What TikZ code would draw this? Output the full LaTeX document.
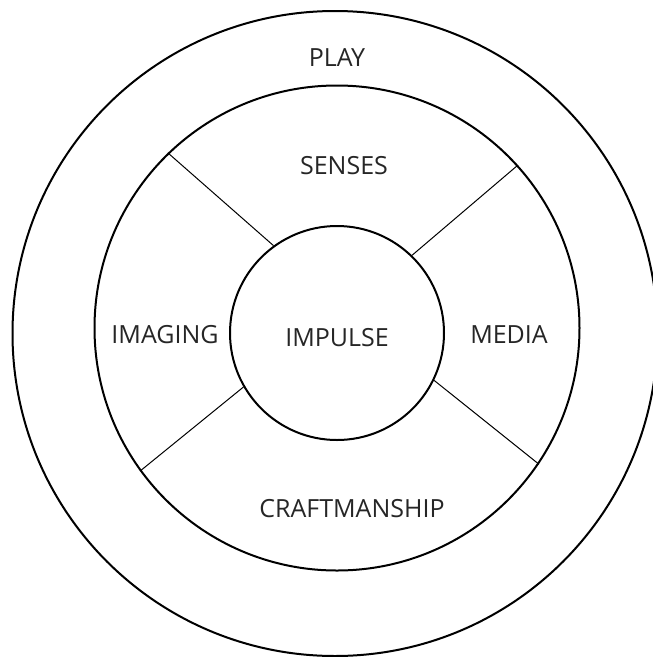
\documentclass[tikz,border=0pt]{standalone}
\usepackage{fontspec}
\setmainfont{Open Sans}
\tikzset{
  ring/.style={
    circle,
    draw=black,
    line width=2pt,
    inner sep=0pt
  },
  spoke/.style={
    draw=black,
    line width=1pt
  },
  word/.style={
    font=\fontsize{25}{29}\selectfont,
    text=black!85,
    inner sep=0pt,
    text height=18pt,
    text depth=0pt
  }
}
\begin{document}
\begin{tikzpicture}[x=1pt,y=-1pt]
\useasboundingbox (0,0) rectangle (653,657);
\clip (0,0) rectangle (653,657);
\node[ring,minimum size=645pt] (play) at (335,333.5) {};
\node[ring,minimum size=485pt] (mid) at (337,328) {};
\node[ring,minimum size=214pt] (impulse) at (337,333) {};
\draw[spoke] (impulse.126.7) -- (mid.134.7);
\draw[spoke] (impulse.46.5) -- (mid.42.5);
\draw[spoke] (impulse.210.6) -- (mid.216.7);
\draw[spoke] (impulse.-26.3) -- (mid.-34.5);
\node[word] (tplay) at (337,57) {PLAY};
\node[word] (tsenses) at (344,165) {SENSES};
\node[word] (timaging) at (165,334) {IMAGING};
\node[word] (timpulse) at (337,337) {IMPULSE};
\node[word] (tmedia) at (509,334) {MEDIA};
\node[word] (tcraft) at (352,508) {CRAFTMANSHIP};
\end{tikzpicture}
\end{document}
